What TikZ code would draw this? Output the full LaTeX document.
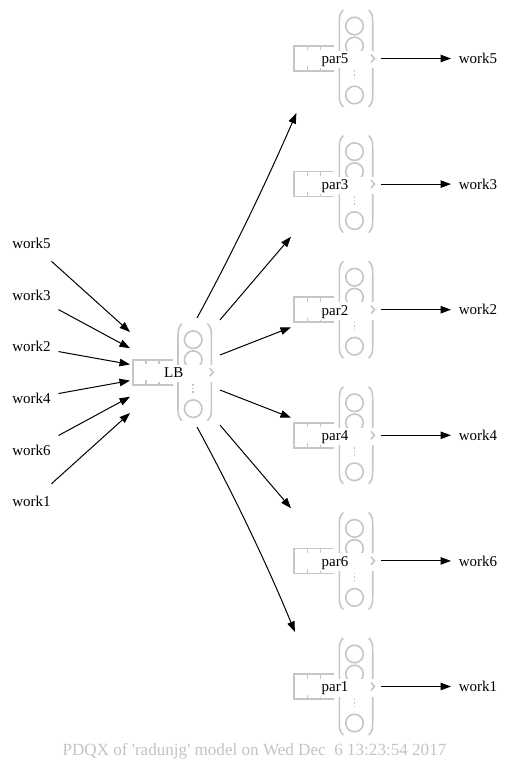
\documentclass[tikz,border=0pt]{standalone}
\usepackage{fontspec}
\newfontfamily\gvfont{Liberation Serif}
\usetikzlibrary{arrows.meta}
\definecolor{icon}{RGB}{198,198,198}
\definecolor{foot}{RGB}{195,195,195}
\tikzset{
  lbl/.style={font=\gvfont\fontsize{15}{18}\selectfont, minimum width=54pt, minimum height=36pt, inner sep=0pt, outer sep=0pt},
  nodebox/.style={minimum width=90pt, minimum height=109pt, inner sep=0pt, outer sep=0pt},
  edge/.style={line width=1pt, -{Triangle[length=10.5pt,width=7.5pt]}},
  iconline/.style={draw=icon, line width=1.6pt},
  pics/server/.style={code={
    % queue
    \draw[iconline] (-22,-12.5) -- (-62,-12.5) -- (-62,12.5) -- (-22,12.5);
    \draw[iconline] (-48.5,-12.5) -- (-48.5,-8) (-35.5,-12.5) -- (-35.5,-8)
                    (-48.5,12.5) -- (-48.5,8) (-35.5,12.5) -- (-35.5,8);
    % parens
    \draw[iconline] (-12.7,-48.5) .. controls (-16.7,-45) and (-16.7,-41) .. (-16.7,-35)
                    -- (-16.7,35) .. controls (-16.7,41) and (-16.7,45) .. (-12.7,48.5);
    \draw[iconline] (12.7,-48.5) .. controls (16.7,-45) and (16.7,-41) .. (16.7,-35)
                    -- (16.7,35) .. controls (16.7,41) and (16.7,45) .. (12.7,48.5);
    % servers
    \draw[iconline] (-1.5,-32.5) circle[radius=8.8];
    \draw[iconline] (-1.5,-12.5) circle[radius=8.8];
    \draw[iconline, dash pattern=on 1.5pt off 2pt] (-1.5,12) -- (-1.5,22.5);
    \draw[iconline] (-1.5,36.5) circle[radius=8.8];
    % label background
    \fill[white] (-40,-7.5) rectangle (19,10);
    \draw[iconline] (15,-4) -- (18.5,0) -- (15,4);
    \node[anchor=base, inner sep=0pt, font=\gvfont\fontsize{15}{18}\selectfont] (t) at (-21,5.3) {#1};
  }}
}
\begin{document}
\begin{tikzpicture}[x=1pt,y=-1pt]
\useasboundingbox (0,0) rectangle (510,768);
% left labels
\node[lbl] (wl5) at (31.5,243.3) {work5};
\node[lbl] (wl3) at (31.5,295.0) {work3};
\node[lbl] (wl2) at (31.5,346.7) {work2};
\node[lbl] (wl4) at (31.5,398.4) {work4};
\node[lbl] (wl6) at (31.5,450.1) {work6};
\node[lbl] (wl1) at (31.5,501.8) {work1};
% LB
\node[nodebox] (LB) at (175,372.5) {};
\pic (lbicon) at (194.7,372.2) {server=LB};
% par nodes
\node[nodebox] (p5) at (336,58.5) {};
\node[nodebox] (p3) at (336,184.1) {};
\node[nodebox] (p2) at (336,309.7) {};
\node[nodebox] (p4) at (336,435.3) {};
\node[nodebox] (p6) at (336,560.9) {};
\node[nodebox] (p1) at (336,686.5) {};
\pic (i5) at (356,58.5) {server=par5};
\pic (i3) at (356,184.1) {server=par3};
\pic (i2) at (356,309.7) {server=par2};
\pic (i4) at (356,435.3) {server=par4};
\pic (i6) at (356,560.9) {server=par6};
\pic (i1) at (356,686.5) {server=par1};
% right labels
\node[lbl] (wr5) at (478,58.5) {work5};
\node[lbl] (wr3) at (478,184.1) {work3};
\node[lbl] (wr2) at (478,309.7) {work2};
\node[lbl] (wr4) at (478,435.3) {work4};
\node[lbl] (wr6) at (478,560.9) {work6};
\node[lbl] (wr1) at (478,686.5) {work1};
% edges in
\draw[edge] (wl5) -- (LB);
\draw[edge] (wl3) -- (LB);
\draw[edge] (wl2) -- (LB);
\draw[edge] (wl4) -- (LB);
\draw[edge] (wl6) -- (LB);
\draw[edge] (wl1) -- (LB);
% edges out of LB
\draw[edge] (LB.68) .. controls (233.6,250.7) and (266.6,181.7) .. (p5.234);
\draw[edge] (LB) -- (p3);
\draw[edge] (LB) -- (p2);
\draw[edge] (LB) -- (p4);
\draw[edge] (LB) -- (p6);
\draw[edge] (LB.-68) .. controls (233.6,494.3) and (266.6,563.3) .. (p1.127);
% edges to right labels
\draw[edge] (p5) -- (wr5);
\draw[edge] (p3) -- (wr3);
\draw[edge] (p2) -- (wr2);
\draw[edge] (p4) -- (wr4);
\draw[edge] (p6) -- (wr6);
\draw[edge] (p1) -- (wr1);
% footer
\node[anchor=base, inner sep=0pt, text=foot, font=\gvfont\fontsize{17.1}{20}\selectfont] (ft) at (254.5,755) {PDQX of 'radunjg' model on Wed Dec\ \ 6 13:23:54 2017};
\end{tikzpicture}
\end{document}
